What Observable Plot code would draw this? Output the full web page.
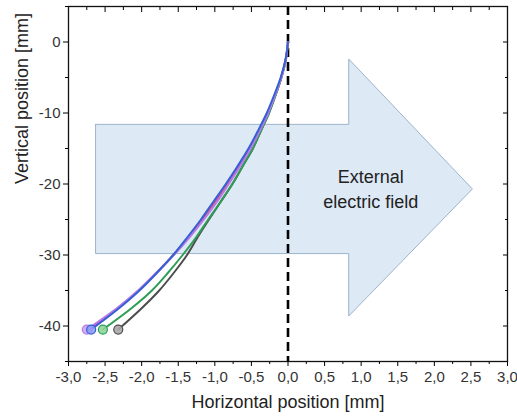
<!DOCTYPE html>
<html>
<head>
<meta charset="utf-8">
<script src="https://cdn.jsdelivr.net/npm/d3@7"></script>
<script src="https://cdn.jsdelivr.net/npm/@observablehq/plot@0.6"></script>
<style>
  html, body { margin: 0; padding: 0; background: #fff; }
  #chart { width: 517px; height: 419px; }
</style>
</head>
<body>
<div id="chart"></div>
<script>
// Vertical positions (mm) at which the trajectories are sampled
const yPos = [0, -2.5, -5, -7.5, -10, -12.5, -15, -17.5, -20, -22.5, -25, -27.5, -30, -32.5, -35, -37.5, -40.5];
// Horizontal positions (mm) of each trajectory
const xGray   = [0, -0.03, -0.09, -0.17, -0.26, -0.37, -0.48, -0.62, -0.76, -0.92, -1.08, -1.235, -1.38, -1.56, -1.76, -2.00, -2.32];
const xGreen  = [0, -0.03, -0.09, -0.17, -0.26, -0.37, -0.48, -0.62, -0.76, -0.92, -1.09, -1.255, -1.44, -1.64, -1.86, -2.14, -2.53];
const xRed    = [0, -0.033, -0.095, -0.18, -0.28, -0.395, -0.525, -0.67, -0.83, -0.995, -1.175, -1.36, -1.565, -1.795, -2.04, -2.325, -2.72];
const xPurple = [0, -0.03, -0.09, -0.175, -0.27, -0.385, -0.51, -0.655, -0.81, -0.97, -1.15, -1.345, -1.56, -1.80, -2.05, -2.34, -2.75];
const xBlue   = [0, -0.035, -0.10, -0.19, -0.29, -0.41, -0.54, -0.69, -0.85, -1.02, -1.19, -1.375, -1.57, -1.79, -2.03, -2.31, -2.69];

const seriesNames = ["s1", "s2", "s3", "s4", "s5"]; // gray, green, red, purple, blue (drawing order)
const seriesX = [xGray, xGreen, xRed, xPurple, xBlue];
const lineColors = ["#4d4d4d", "#2e9e57", "#d8487a", "#b67ce6", "#3560d6"];
const markerFills = ["#a9a9a9", "#8fd49b", null, "#caa3f2", "#8e9cf2"];
const markerSeries = ["s1", "s2", "s4", "s5"];

// Arrow "External electric field" outline (data coordinates, mm)
const arrowX = [-2.63, 0.83, 0.83, 2.52, 0.83, 0.83, -2.63, -2.63];
const arrowY = [-11.6, -11.6, -2.4, -20.7, -38.6, -29.8, -29.8, -11.6];
const arrowLabel = ["External\nelectric field"];
const arrowLabelPos = {x: 1.13, y: -20.5};

const xMajor = [-3, -2.5, -2, -1.5, -1, -0.5, 0, 0.5, 1, 1.5, 2, 2.5, 3];
const xMinor = [-2.75, -2.25, -1.75, -1.25, -0.75, -0.25, 0.25, 0.75, 1.25, 1.75, 2.25, 2.75];
const yMajor = [0, -10, -20, -30, -40];
const yMinor = [5, -5, -15, -25, -35, -45];
const xTitle = "Horizontal position [mm]";
const yTitle = "Vertical position [mm]";

const rows = [];
seriesNames.forEach((name, i) => {
  yPos.forEach((y, j) => rows.push({series: name, x: seriesX[i][j], y}));
});
const ends = markerSeries.map(name => {
  const i = seriesNames.indexOf(name);
  return {series: name, x: seriesX[i][seriesX[i].length - 1], y: yPos[yPos.length - 1], fill: markerFills[i], stroke: lineColors[i]};
});
const arrow = arrowX.map((x, i) => ({x, y: arrowY[i]}));

const fmt = d => d3.format(".1f")(d).replace(".", ",").replace("−", "-");
const font = "'Liberation Sans', Arial, sans-serif";

const chart = Plot.plot({
  width: 517,
  height: 419,
  marginLeft: 68,
  marginRight: 10,
  marginTop: 6,
  marginBottom: 58,
  style: {fontFamily: font, background: "#fff"},
  x: {domain: [-3, 3]},
  y: {domain: [-45, 5]},
  color: {type: "ordinal", domain: seriesNames, range: lineColors},
  marks: [
    Plot.line(arrow, {x: "x", y: "y", fill: "#dde9f5", stroke: "#9db3cb", strokeWidth: 1, curve: "linear"}),
    Plot.text(arrowLabel, {x: () => arrowLabelPos.x, y: () => arrowLabelPos.y, text: d => d, fontSize: 18, lineHeight: 1.38, fill: "#222"}),
    Plot.ruleX([0], {stroke: "#000", strokeWidth: 2.6, strokeDasharray: "9,5"}),
    Plot.line(rows, {x: "x", y: "y", z: "series", stroke: "series", strokeWidth: 2, curve: "catmull-rom"}),
    Plot.dot(ends, {x: "x", y: "y", r: 4.5, fill: d => d.fill, stroke: d => d.stroke, strokeWidth: 1.2, fillOpacity: 0.9}),
    // bottom axis
    Plot.axisX({ticks: xMajor, tickSize: 5, tickPadding: 5, tickFormat: fmt, fontSize: 15, fill: "#333", label: null}),
    Plot.axisX({ticks: xMinor, tickSize: 3, fill: "none", label: null}),
    // top axis (inward ticks)
    Plot.axisX({anchor: "top", ticks: xMajor, tickSize: 5, dy: 5, fill: "none", label: null}),
    Plot.axisX({anchor: "top", ticks: xMinor, tickSize: 3, dy: 3, fill: "none", label: null}),
    // left axis
    Plot.axisY({ticks: yMajor, tickSize: 5, tickPadding: 3, tickFormat: d => String(d), fontSize: 15, fill: "#333", label: null}),
    Plot.axisY({ticks: yMinor, tickSize: 3, fill: "none", label: null}),
    // right axis (inward ticks)
    Plot.axisY({anchor: "right", ticks: yMajor, tickSize: 5, dx: -5, fill: "none", label: null}),
    Plot.axisY({anchor: "right", ticks: yMinor, tickSize: 3, dx: -3, fill: "none", label: null}),
    Plot.frame({stroke: "#111", strokeWidth: 1.3}),
    Plot.text([xTitle], {frameAnchor: "bottom", dy: 46, fontSize: 18, fill: "#222"}),
    Plot.text([yTitle], {frameAnchor: "left", dx: -46, rotate: -90, fontSize: 18, fill: "#222"})
  ]
});
document.getElementById("chart").appendChild(chart);
</script>
</body>
</html>
